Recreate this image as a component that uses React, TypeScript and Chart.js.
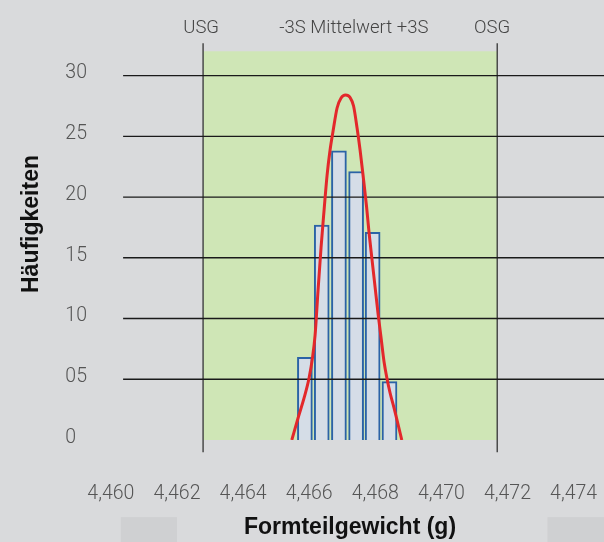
import { useEffect, useRef } from 'react';
import { Chart, registerables } from 'chart.js';

Chart.register(...registerables);

// ---- data ----
const binCenters = [4.46587, 4.46638, 4.4669, 4.46742, 4.46792, 4.46843];
const binCounts = [6.8, 17.7, 23.8, 22.1, 17.1, 4.8];

const curveX = [
  4.465474, 4.465664, 4.465846, 4.465997, 4.466103, 4.466179, 4.466269, 4.46636,
  4.466451, 4.466542, 4.466632, 4.466723, 4.466844, 4.466965, 4.467101,
  4.467238, 4.467343, 4.467449, 4.46754, 4.46764, 4.467737, 4.467812, 4.467903,
  4.467994, 4.468085, 4.468176, 4.468266, 4.468357, 4.468448, 4.468569, 4.468802,
];
const curveY = [
  0, 1.81, 3.46, 5.1, 6.83, 8.64, 12.35, 15.88,
  18.93, 21.81, 23.87, 25.43, 27.33, 28.15, 28.4,
  28.19, 27.49, 25.68, 23.87, 21.56, 19.18, 17.04, 14.81,
  12.59, 10.37, 8.4, 6.42, 5.02, 3.87, 2.63, 0,
];

const xTickValues = [4.46, 4.462, 4.464, 4.466, 4.468, 4.47, 4.472, 4.474];
const yTickValues = [0, 5, 10, 15, 20, 25, 30];
const yTickLabels = ['0', '05', '10', '15', '20', '25', '30'];

const usgValue = 4.46279;
const osgValue = 4.47169;
const toleranceTop = 32;
const limitLineTop = 32.65;
const limitLineBottom = -1.0;
const gridStartX = 4.46037;

const topLabels = ['USG', '-3S Mittelwert +3S', 'OSG'];
const topLabelX = [4.46273, 4.46735, 4.47153];
const topLabelY = 33.47;

const footBoxes = [
  [4.4603, 4.462],
  [4.47321, 4.47492],
];
const footBoxTop = -6.35;

const FONT = "'Liberation Sans', Arial, Helvetica, sans-serif";
const LIGHT_FONT = "Roboto, 'Liberation Sans', Arial, sans-serif";

const decorPlugin = {
  id: 'decor',
  beforeDraw(chart: any) {
    const { ctx } = chart;
    const x = chart.scales.x;
    const y = chart.scales.y;
    ctx.save();
    ctx.fillStyle = '#cfd0d2';
    for (const [a, b] of footBoxes) {
      const x0 = x.getPixelForValue(a);
      const x1 = x.getPixelForValue(b);
      const y0 = y.getPixelForValue(footBoxTop);
      ctx.fillRect(x0, y0, x1 - x0, chart.height - y0);
    }
    ctx.restore();
  },
  beforeDatasetsDraw(chart: any) {
    const { ctx } = chart;
    const x = chart.scales.x;
    const y = chart.scales.y;
    ctx.save();
    const x0 = x.getPixelForValue(usgValue);
    const x1 = x.getPixelForValue(osgValue);
    const yTop = y.getPixelForValue(toleranceTop);
    const yBot = y.getPixelForValue(0);
    ctx.fillStyle = '#cfe6b6';
    ctx.fillRect(x0, yTop, x1 - x0, yBot - yTop);

    ctx.strokeStyle = '#4a4a4a';
    ctx.lineWidth = 1.5;
    for (const v of [usgValue, osgValue]) {
      const px = x.getPixelForValue(v);
      ctx.beginPath();
      ctx.moveTo(px, y.getPixelForValue(limitLineTop));
      ctx.lineTo(px, y.getPixelForValue(limitLineBottom));
      ctx.stroke();
    }

    ctx.fillStyle = '#444444';
    ctx.font = `300 18.5px ${LIGHT_FONT}`;
    ctx.textAlign = 'center';
    ctx.textBaseline = 'alphabetic';
    topLabels.forEach((t, i) => {
      ctx.fillText(t, x.getPixelForValue(topLabelX[i]), y.getPixelForValue(topLabelY));
    });
    ctx.restore();
  },
  afterDatasetDraw(chart: any, args: any) {
    if (args.meta.type !== 'bar') return;
    const { ctx, chartArea } = chart;
    const x = chart.scales.x;
    const y = chart.scales.y;
    ctx.save();
    ctx.strokeStyle = '#1a1a1a';
    ctx.lineWidth = 1.3;
    const xs = x.getPixelForValue(gridStartX);
    for (const v of yTickValues) {
      if (v === 0) continue;
      const py = y.getPixelForValue(v);
      ctx.beginPath();
      ctx.moveTo(xs, py);
      ctx.lineTo(chartArea.right, py);
      ctx.stroke();
    }
    ctx.restore();
  },
};

export default function App() {
  const canvasRef = useRef<HTMLCanvasElement | null>(null);

  useEffect(() => {
    document.body.style.margin = '0';
    const canvas = canvasRef.current;
    if (!canvas) return;
    const chart = new Chart(canvas, {
      type: 'bar',
      data: {
        datasets: [
          {
            type: 'bar',
            label: 'Häufigkeiten',
            data: binCenters.map((xv, i) => ({ x: xv, y: binCounts[i] })),
            backgroundColor: '#d5dde7',
            borderColor: '#2b63a6',
            borderWidth: 2,
            barThickness: 15,
            order: 2,
          } as any,
          {
            type: 'line',
            label: 'Normalverteilung',
            data: curveX.map((xv, i) => ({ x: xv, y: curveY[i] })),
            borderColor: '#e3282b',
            borderWidth: 3,
            pointRadius: 0,
            fill: false,
            cubicInterpolationMode: 'monotone',
            order: 1,
          } as any,
        ],
      },
      options: {
        animation: false,
        responsive: false,
        events: [],
        layout: { padding: { top: 8, left: 0, right: 0, bottom: 0 } },
        plugins: {
          legend: { display: false },
          tooltip: { enabled: false },
        },
        scales: {
          x: {
            type: 'linear',
            min: 4.45955,
            max: 4.47492,
            offset: false,
            grid: { display: false, drawTicks: false },
            border: { display: false },
            afterBuildTicks: (s: any) => {
              s.ticks = xTickValues.map((value) => ({ value }));
            },
            afterFit: (s: any) => {
              s.height = 102;
              s.paddingLeft = 0;
              s.paddingRight = 0;
            },
            ticks: {
              padding: 42,
              autoSkip: false,
              maxRotation: 0,
              minRotation: 0,
              color: '#555555',
              font: { family: LIGHT_FONT, size: 19.5, weight: 300 },
              callback: (v: any) => Number(v).toFixed(3).replace('.', ','),
            },
            title: {
              display: true,
              text: 'Formteilgewicht (g)',
              color: '#111111',
              font: { family: FONT, size: 23, weight: 'bold' },
              padding: { top: 0, bottom: 1 },
            },
          },
          y: {
            type: 'linear',
            min: 0,
            max: 35.56,
            grid: { display: false, drawTicks: false },
            border: { display: false },
            afterBuildTicks: (s: any) => {
              s.ticks = yTickValues.map((value) => ({ value }));
            },
            afterFit: (s: any) => {
              s.width = 96;
              s.paddingTop = 0;
              s.paddingBottom = 0;
            },
            ticks: {
              padding: 9,
              labelOffset: -2,
              color: '#555555',
              font: { family: LIGHT_FONT, size: 19.5, weight: 300 },
              callback: (v: any) => {
                const i = yTickValues.indexOf(Number(v));
                const lbl = i >= 0 ? yTickLabels[i] : String(v);
                return lbl.padEnd(2, '\u2007');
              },
            },
            title: {
              display: true,
              text: 'Häufigkeiten',
              color: '#111111',
              font: { family: FONT, size: 23, weight: 'bold' },
              padding: { top: 17.5, bottom: 0 },
            },
          },
        },
      } as any,
      plugins: [decorPlugin],
    });
    return () => chart.destroy();
  }, []);

  return (
    <div
      style={{
        position: 'fixed',
        left: 0,
        top: 0,
        width: 604,
        height: 542,
        background: '#d9dadc',
      }}
    >
      <canvas ref={canvasRef} width={604} height={542} style={{ display: 'block' }} />
    </div>
  );
}
